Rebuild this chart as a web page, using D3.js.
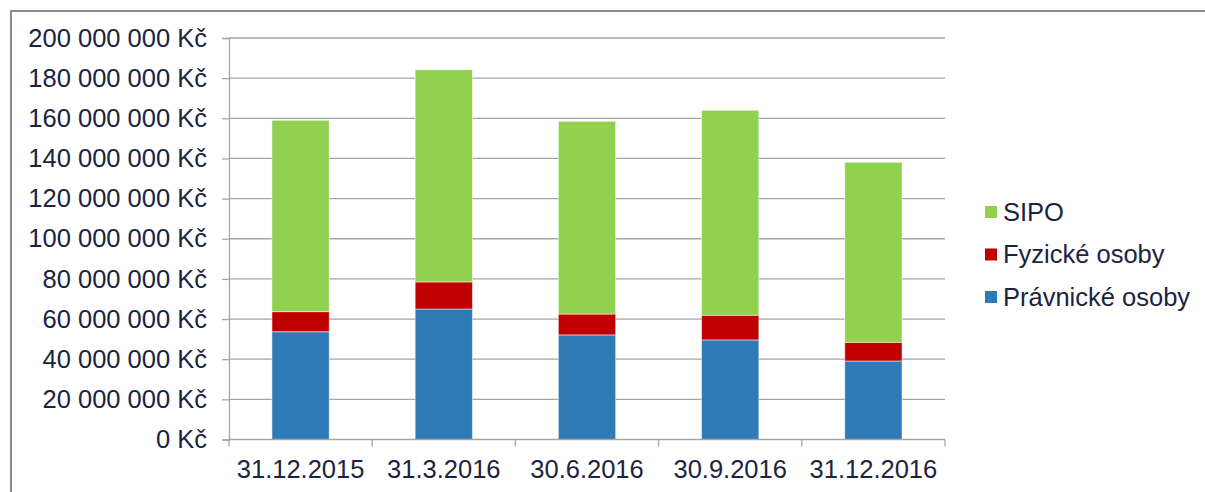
<!DOCTYPE html>
<html>
<head>
<meta charset="utf-8">
<script src="https://cdn.jsdelivr.net/npm/d3@7"></script>
<style>
  body { margin: 0; background: #fff; }
  text { font-family: "Liberation Sans", Arial, sans-serif; }
</style>
</head>
<body>
<div id="chart"></div>
<script>
// data (values in Kč)
var categories = ["31.12.2015", "31.3.2016", "30.6.2016", "30.9.2016", "31.12.2016"];
var pravnicke = [53.7e6, 65.0e6, 52.1e6, 49.6e6, 39.1e6];
var fyzicke = [10.0e6, 13.5e6, 10.4e6, 12.3e6, 9.3e6];
var sipo = [95.3e6, 105.7e6, 96.0e6, 102.1e6, 89.7e6];
var seriesNames = ["Právnické osoby", "Fyzické osoby", "SIPO"];
var yTicks = [0, 20e6, 40e6, 60e6, 80e6, 100e6, 120e6, 140e6, 160e6, 180e6, 200e6];

var W = 1205, H = 492;
var fontSize = "25.5px";
var colors = { "Právnické osoby": "#2E7AB6", "Fyzické osoby": "#C00000", "SIPO": "#92D050" };
var plotLeft = 229, plotRight = 945, plotTop = 38, plotBottom = 439.5;

var svg = d3.select("#chart").append("svg")
  .attr("width", W).attr("height", H);

// outer frame
svg.append("path")
  .attr("d", "M11,492 L11,11 L1205,11")
  .attr("fill", "none")
  .attr("stroke", "#8c8c8c")
  .attr("stroke-width", 2);

var x = d3.scaleBand().domain(categories).range([plotLeft, plotRight]).paddingInner(0.6).paddingOuter(0.3);
var y = d3.scaleLinear().domain([0, 200e6]).range([plotBottom, plotTop]);

var loc = d3.formatLocale({ decimal: ",", thousands: " ", grouping: [3], currency: ["", " Kč"] });
var fmt = loc.format(",.0f");

// gridlines
svg.append("g").selectAll("line")
  .data(yTicks.slice(1))
  .enter().append("line")
  .attr("x1", plotLeft).attr("x2", plotRight)
  .attr("y1", function(d){ return y(d); })
  .attr("y2", function(d){ return y(d); })
  .attr("stroke", "#a6a6a6")
  .attr("stroke-width", 1.3);

// stacked bars
var rows = categories.map(function(c, i){
  return { cat: c, "Právnické osoby": pravnicke[i], "Fyzické osoby": fyzicke[i], "SIPO": sipo[i] };
});
var stack = d3.stack().keys(seriesNames)(rows);

svg.append("g").selectAll("g")
  .data(stack)
  .enter().append("g")
  .attr("fill", function(d){ return colors[d.key]; })
  .selectAll("rect")
  .data(function(d){ return d; })
  .enter().append("rect")
  .attr("x", function(d){ return x(d.data.cat); })
  .attr("width", x.bandwidth())
  .attr("y", function(d){ return y(d[1]); })
  .attr("height", function(d){ return y(d[0]) - y(d[1]); })
  .attr("stroke", "#ffffff")
  .attr("stroke-opacity", 0.5)
  .attr("stroke-width", 1);

// y axis
var yAxis = svg.append("g")
  .attr("transform", "translate(" + plotLeft + ",0)")
  .call(d3.axisLeft(y).tickValues(yTicks).tickSize(7).tickPadding(15)
    .tickFormat(function(d){ return fmt(d) + " Kč"; }));
yAxis.select(".domain").attr("stroke", "#a6a6a6").attr("stroke-width", 1.3);
yAxis.selectAll(".tick line").attr("stroke", "#a6a6a6").attr("stroke-width", 1.3);
yAxis.selectAll("text")
  .attr("fill", "#1b2440")
  .style("font-family", "'Liberation Sans', Arial, sans-serif")
  .style("font-size", fontSize);

// x axis
var xAxis = svg.append("g")
  .attr("transform", "translate(0," + plotBottom + ")");
xAxis.append("line")
  .attr("x1", plotLeft).attr("x2", plotRight)
  .attr("stroke", "#a6a6a6").attr("stroke-width", 1.3);
var bounds = categories.map(function(c){ return x(c) - x.step() * x.paddingInner() / 2; });
bounds.push(plotRight);
xAxis.selectAll(".xt")
  .data(bounds)
  .enter().append("line")
  .attr("class", "xt")
  .attr("x1", function(d){ return d; }).attr("x2", function(d){ return d; })
  .attr("y1", 0).attr("y2", 7)
  .attr("stroke", "#a6a6a6").attr("stroke-width", 1.3);
xAxis.selectAll(".xl")
  .data(categories)
  .enter().append("text")
  .attr("class", "xl")
  .attr("x", function(d){ return x(d) + x.bandwidth() / 2; })
  .attr("y", 38.5)
  .attr("text-anchor", "middle")
  .attr("fill", "#1b2440")
  .style("font-size", fontSize)
  .text(function(d){ return d; });

// legend
var legendItems = seriesNames.slice().reverse();
var legend = svg.append("g").attr("transform", "translate(985,212)");
legend.selectAll("rect")
  .data(legendItems)
  .enter().append("rect")
  .attr("x", 0)
  .attr("y", function(d, i){ return i * 42.5 - 6; })
  .attr("width", 12).attr("height", 12)
  .attr("fill", function(d){ return colors[d]; });
legend.selectAll("text")
  .data(legendItems)
  .enter().append("text")
  .attr("x", 18)
  .attr("y", function(d, i){ return i * 42.5; })
  .attr("dy", "0.35em")
  .attr("fill", "#1b2440")
  .style("font-size", fontSize)
  .text(function(d){ return d; });
</script>
</body>
</html>
